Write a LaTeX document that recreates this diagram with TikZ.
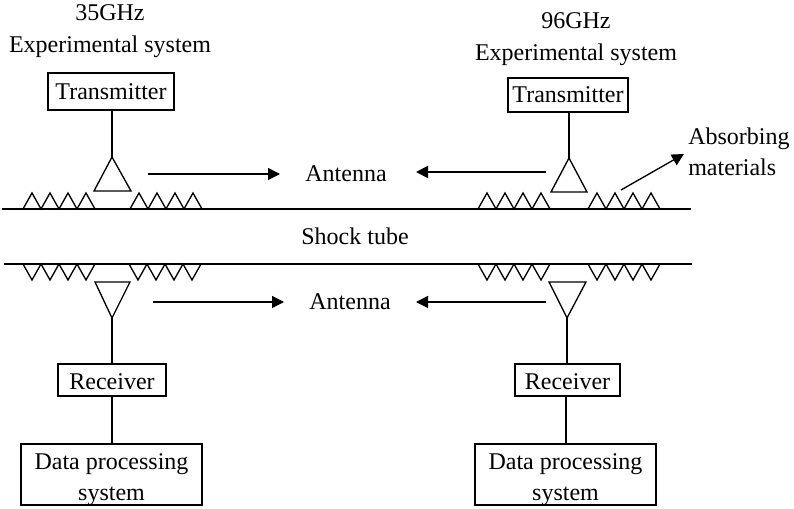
\documentclass[tikz,border=0pt]{standalone}
\usepackage{fontspec}
\setmainfont{Liberation Serif}
\usetikzlibrary{arrows.meta}

\tikzset{
  lbl/.style={font=\fontsize{18}{23.5}\selectfont,inner sep=0pt,align=center},
  unitbox/.style={draw,line width=1pt,lbl},
  rxbox/.style={unitbox,minimum height=24pt,text height=14pt},
  dpbox/.style={draw,line width=1pt,inner sep=0pt,minimum width=135.8pt,minimum height=45.8pt,
    label={[lbl,yshift=-3.75pt]center:{Data processing\\system}}},
  wire/.style={line width=1pt},
  wave/.style={line width=1pt,-{Triangle[length=9pt,width=9pt]}}
}
% one absorber strip: start x, wall y, tip height
\newcommand{\absorb}[3]{%
  \draw[wire,line join=miter] (#1,#2)
    \foreach \k in {1,...,4} { -- ++(9,#3) -- ++(9,-#3) };}

\begin{document}
\begin{tikzpicture}[x=0.75pt,y=-0.75pt]
  \useasboundingbox (0,0) rectangle (794,509);
  % tube walls
  \coordinate (wtl) at (2,209);
  \coordinate (wtr) at (691,209);
  \coordinate (wbl) at (4,264);
  \coordinate (wbr) at (692,264);
  \draw[wire] (wtl) -- (wtr);
  \draw[wire] (wbl) -- (wbr);
  \node[lbl] (tube) at (355,236) {Shock tube};

  % 35GHz side
  \node[lbl] (t35) at (110,31) {35GHz\\Experimental system};
  \node[unitbox,minimum width=94.5pt,minimum height=27.8pt] (tx1) at (111,91.5) {Transmitter};
  \node[rxbox,minimum width=81pt] (rx1) at (112,380) {Receiver};
  \node[dpbox] (dp1) at (111.5,474.5) {};
  \coordinate (a1) at (112,157);
  \coordinate (b1) at (112,318);
  \draw[wire] (a1 |- tx1.south) -- (a1);
  \draw[wire] (a1) -- (131,191) -- (94,191) -- cycle;
  \draw[wire] (b1) -- (130,282) -- (95,282) -- cycle;
  \draw[wire] (b1) -- (rx1.north -| b1);
  \draw[wire] (rx1.south -| b1) -- (dp1.north -| b1);
  \absorb{23}{209}{-16}
  \absorb{130}{209}{-16}
  \absorb{23}{264}{16}
  \absorb{129}{264}{16}

  % 96GHz side
  \node[lbl] (t96) at (576,39) {96GHz\\Experimental system};
  \node[unitbox,minimum width=90pt,minimum height=25.5pt] (tx2) at (568,95) {Transmitter};
  \node[rxbox,minimum width=78.8pt] (rx2) at (567.5,380) {Receiver};
  \node[dpbox] (dp2) at (565.5,474.5) {};
  \coordinate (a2) at (569,158);
  \coordinate (b2) at (567,318);
  \coordinate (c2) at (566,420);
  \draw[wire] (a2 |- tx2.south) -- (a2);
  \draw[wire] (a2) -- (587,192) -- (551,192) -- cycle;
  \draw[wire] (b2) -- (586,282) -- (549,282) -- cycle;
  \draw[wire] (b2) -- (rx2.north -| b2);
  \draw[wire] (rx2.south -| c2) -- (dp2.north -| c2);
  \absorb{478}{209}{-16}
  \absorb{588}{209}{-16}
  \absorb{478}{264}{16}
  \absorb{588}{264}{16}

  % antenna labels and arrows
  \node[lbl] (ant1) at (346,174) {Antenna};
  \node[lbl] (ant2) at (350,302) {Antenna};
  \coordinate (w1s) at (148,174);
  \coordinate (w1e) at (280,174);
  \coordinate (w2s) at (546,172);
  \coordinate (w2e) at (416,172);
  \coordinate (w3s) at (153,302);
  \coordinate (w3e) at (284,302);
  \coordinate (w4s) at (546,302);
  \coordinate (w4e) at (416,302);
  \draw[wave] (w1s) -- (w1e);
  \draw[wave,line width=1.4pt] (w2s) -- (w2e);
  \draw[wave] (w3s) -- (w3e);
  \draw[wave] (w4s) -- (w4e);

  % absorber note
  \node[lbl,anchor=west,align=left] (note) at (688,152) {Absorbing\\materials};
  \coordinate (n1) at (621,190);
  \coordinate (n2) at (684,154);
  \draw[wave] (n1) -- (n2);
\end{tikzpicture}
\end{document}
